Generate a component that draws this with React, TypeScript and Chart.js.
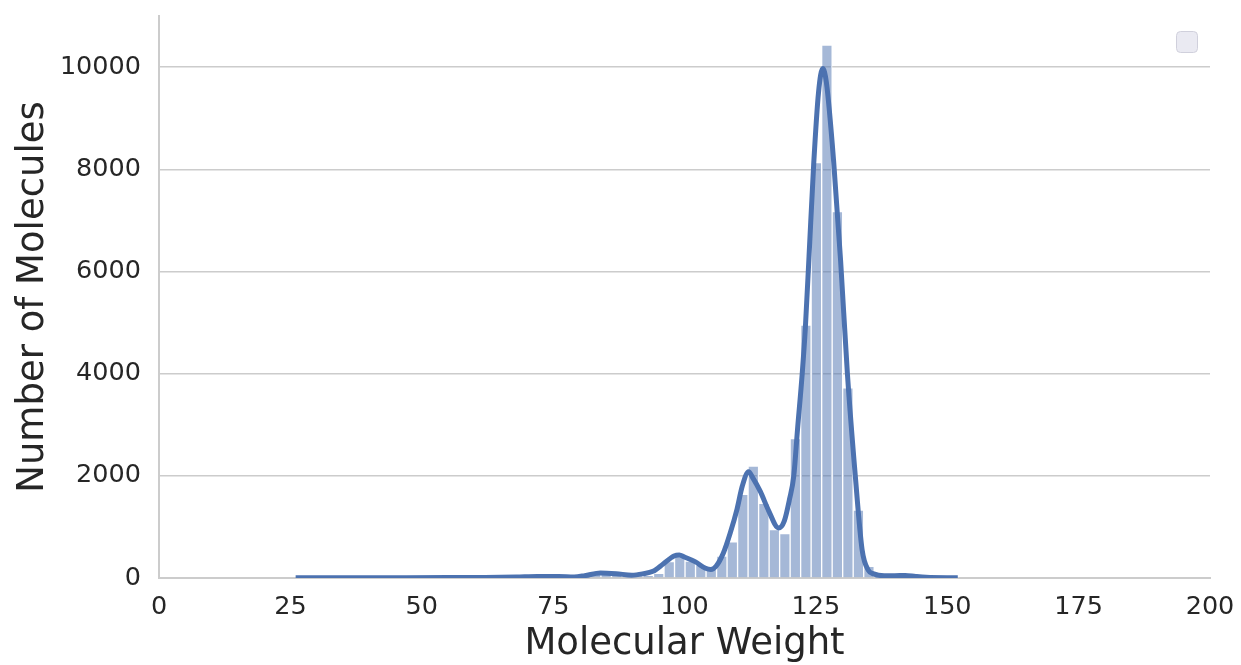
import React, { useEffect, useRef } from "react";
import { Chart, registerables } from "chart.js";

Chart.register(...registerables);

// Histogram bins (centers, width 2) and counts
const binCenters = [
  27.1, 29.1, 31.1, 33.1, 35.1, 37.1, 39.1, 41.1, 43.1, 45.1, 47.1, 49.1, 51.1, 53.1, 55.1, 57.1,
  59.1, 61.1, 63.1, 65.1, 67.1, 69.1, 71.1, 73.1, 75.1, 77.1, 79.1, 81.1, 83.1, 85.1, 87.1, 89.1,
  91.1, 93.1, 95.1, 97.1, 99.1, 101.1, 103.1, 105.1, 107.1, 109.1, 111.1, 113.1, 115.1, 117.1,
  119.1, 121.1, 123.1, 125.1, 127.1, 129.1, 131.1, 133.1, 135.1, 137.1, 139.1, 141.1, 143.1,
  145.1, 147.1, 149.1, 151.1,
];
const binCounts = [
  3, 1, 1, 2, 1, 2, 2, 3, 2, 3, 4, 3, 5, 4, 6, 8,
  10, 12, 15, 18, 25, 35, 40, 38, 30, 22, 30, 60, 100, 95, 80, 55,
  45, 50, 90, 320, 420, 330, 260, 170, 430, 710, 1640, 2190, 1460, 950,
  870, 2730, 4950, 8130, 10430, 7170, 3720, 1330, 230, 60, 40, 60, 35,
  15, 8, 5, 3,
];

// KDE curve
const kdeX = [
  26, 35, 45, 55, 62, 68, 72, 76, 79, 81, 84, 87, 90, 92, 94, 96, 98, 99, 100, 102, 104, 105,
  106, 107.4, 108.7, 110, 111, 112.2, 113, 114.4, 116, 117.9, 119, 120, 120.8, 121.5, 122.4,
  123, 123.7, 124.6, 125.5, 126.3, 127, 128.4, 129.7, 131, 132.5, 133.8, 135, 136, 138, 140,
  142, 144, 146, 152,
];
const kdeY = [
  5, 5, 6, 8, 12, 20, 30, 30, 20, 45, 100, 85, 55, 80, 130, 280, 430, 450, 410, 320, 190, 165,
  230, 490, 880, 1350, 1800, 2080, 1960, 1700, 1320, 980, 1120, 1550, 2000, 2900, 4000,
  4900, 6300, 8130, 9500, 9970, 9700, 8130, 6220, 4000, 2000, 550, 150, 80, 45, 45,
  50, 30, 15, 5,
];

const xTicks = [0, 25, 50, 75, 100, 125, 150, 175, 200];
const yTicks = [0, 2000, 4000, 6000, 8000, 10000];

const legendBox = {
  id: "legendBox",
  afterDraw(chart: any) {
    const ctx = chart.ctx;
    const { right, top } = chart.chartArea;
    const w = 21, h = 21;
    const x = right - 13 - w, y = top + 15;
    ctx.save();
    ctx.beginPath();
    ctx.roundRect(x + 0.5, y + 0.5, w, h, 4);
    ctx.fillStyle = "#eaeaf2";
    ctx.fill();
    ctx.strokeStyle = "#d0d0dc";
    ctx.lineWidth = 1;
    ctx.stroke();
    ctx.restore();
  },
};

export default function App() {
  const ref = useRef<HTMLCanvasElement>(null);
  useEffect(() => {
    document.body.style.margin = "0";
    const chart = new Chart(ref.current!, {
      type: "bar",
      data: {
        datasets: [
          {
            type: "line",
            data: kdeX.map((x, i) => ({ x, y: kdeY[i] })),
            borderColor: "#4c72b0",
            borderWidth: 5,
            pointRadius: 0,
            cubicInterpolationMode: "monotone",
            fill: false,
            order: 0,
          } as any,
          {
            type: "bar",
            data: binCenters.map((x, i) => ({ x, y: binCounts[i] })),
            backgroundColor: "rgba(76,114,176,0.5)",
            borderColor: "#ffffff",
            borderWidth: 1,
            barPercentage: 1,
            categoryPercentage: 1,
            order: 1,
          } as any,
        ],
      },
      options: {
        responsive: false,
        animation: false,
        layout: { padding: { left: 0, right: 31, top: 16, bottom: 0 } },
        plugins: { legend: { display: false }, tooltip: { enabled: false } },
        scales: {
          x: {
            type: "linear",
            min: 0,
            max: 200,
            offset: false,
            afterBuildTicks: (s: any) => {
              s.ticks = xTicks.map((v) => ({ value: v }));
            },
            afterFit: (s: any) => {
              s.height = 87;
              s.paddingLeft = 0;
              s.paddingRight = 0;
            },
            grid: { display: false, drawTicks: false },
            border: { display: true, color: "#cccccc", width: 2 },
            ticks: {
              padding: 14,
              color: "#262626",
              font: { family: "DejaVu Sans", size: 25.5 },
              maxRotation: 0,
              callback: (v: any) => String(v),
            },
            title: {
              display: true,
              text: "Molecular Weight",
              color: "#262626",
              font: { family: "DejaVu Sans", size: 37 },
              padding: { top: 0, bottom: -2 },
            },
          },
          y: {
            type: "linear",
            min: 0,
            max: 11000,
            afterBuildTicks: (s: any) => {
              s.ticks = yTicks.map((v) => ({ value: v }));
            },
            afterFit: (s: any) => {
              s.width = 159;
              s.paddingTop = 0;
              s.paddingBottom = 0;
            },
            grid: { color: "#cccccc", lineWidth: 1.5, drawTicks: false },
            border: { display: true, color: "#cccccc", width: 2 },
            ticks: {
              padding: 18,
              color: "#262626",
              font: { family: "DejaVu Sans", size: 25.5 },
              callback: (v: any) => String(v),
            },
            title: {
              display: true,
              text: "Number of Molecules",
              color: "#262626",
              font: { family: "DejaVu Sans", size: 37 },
              padding: { top: 11, bottom: 0 },
            },
          },
        },
      },
      plugins: [legendBox],
    });
    return () => chart.destroy();
  }, []);
  return (
    <div style={{ position: "absolute", left: 0, top: 0, width: 1241, height: 665, background: "#fff" }}>
      <canvas ref={ref} width={1241} height={665} style={{ width: 1241, height: 665 }} />
    </div>
  );
}
